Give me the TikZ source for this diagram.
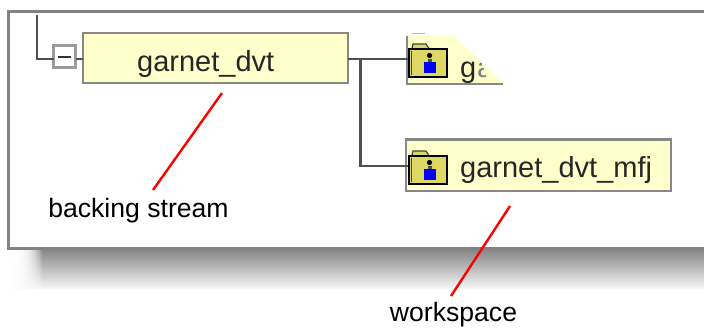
\documentclass[tikz,border=0pt]{standalone}
\usepackage{fontspec}
\setmainfont{Liberation Sans}
\definecolor{boxfill}{RGB}{255,255,204}
\definecolor{boxline}{RGB}{135,135,135}
\definecolor{expline}{RGB}{155,155,155}
\definecolor{treeline}{RGB}{80,80,80}
\definecolor{framegray}{RGB}{130,130,130}
\definecolor{foldery}{RGB}{221,216,100}
\tikzset{
  treebox/.style={draw=boxline,line width=2.2pt,fill=boxfill,inner sep=0pt,outer sep=0pt,anchor=north west},
  treetext/.style={font=\fontsize{29}{29}\selectfont,text=black!85,inner sep=0pt,anchor=base west},
  tree/.style={draw=treeline,line width=2.2pt},
  pointer/.style={draw=red,line width=2.4pt},
  callout/.style={font=\fontsize{26.6}{26.6}\selectfont,text=black,inner sep=0pt,anchor=base},
  foldericon/.pic={
    \draw[black!75,line width=1.2pt,fill=foldery] (3,-5) -- (4,-9.5) -- (17,-9.5) -- (20,-5);
    \draw[black,line width=2pt,fill=foldery] (0,-5) rectangle (38,23);
    \draw[black!70!foldery,line width=1pt] (2,-3) -- (2,21);
    \fill[black] (20.5,2) circle (2.6);
    \fill[blue!95!black] (14.5,8) rectangle (26.5,19);
    \fill[black!70] (18.5,5) rectangle (22.5,8);
  }
}
\begin{document}
\begin{tikzpicture}[x=1pt,y=-1pt]
\useasboundingbox (0,0) rectangle (704,327);
\clip (0,0) rectangle (704,327);
% drop shadow: vertical gradient, faded by strips towards the left
\shade[top color=black!48,middle color=black!20,bottom color=black!4] (42,249) rectangle (704,288);
\foreach \i in {1,...,15}{
  \pgfmathsetmacro{\xl}{12+2*(\i-1)}
  \pgfmathsetmacro{\xr}{\xl+2}
  \pgfmathsetmacro{\dark}{48*(\i/16)*(\i/16)*(\i/16)}
  \pgfmathsetmacro{\mid}{1+19*(\i/16)*(\i/16)*(\i/16)}
  \pgfmathsetmacro{\light}{1+3*\i/16}
  \shade[top color=black!\dark,middle color=black!\mid,bottom color=black!\light] (\xl,249) rectangle (\xr,288);
}
% window frame
\draw[framegray,line width=2.2pt,fill=white] (8.5,11.5) rectangle (720,248.5);
% tree coordinates
\coordinate (rootup) at (37,15);
\coordinate (elbow) at (37,59);
\coordinate (branch) at (360.5,59);
\coordinate (branchlow) at (360.5,166);
% top faded box
\fill[boxfill] (407,35) -- (453,35) -- (503,83) -- (407,83) -- cycle;
\draw[boxline,line width=2pt] (406.5,36) -- (406.5,83.5) -- (503,83.5);
\draw[boxline!60,line width=1pt] (412,33) -- (425,33);
\node[treetext,text=black!85] (topname) at (460,77) {g};
\begin{scope}
  \clip (478,55) -- (489,83) -- (470,83) -- (470,55) -- cycle;
  \node[treetext,text=black!50] (toppart) at (477,77) {a};
\end{scope}
% boxes
\node[treebox,minimum width=265pt,minimum height=50.5pt] (root) at (82.7,32.7) {};
\node[treetext] (rootname) at (137,71.5) {garnet\_dvt};
\node[treebox,minimum width=265pt,minimum height=51.4pt] (mfj) at (406,139.5) {};
\node[treetext] (mfjname) at (460,177.5) {garnet\_dvt\_mfj};
% expander
\node[draw=expline,line width=2.2pt,fill=white,outer sep=0pt,minimum width=22pt,minimum height=22pt,inner sep=0pt] (expander) at (64.5,56.5) {};
\coordinate (minusl) at (58,57);
\coordinate (minusr) at (71,57);
\draw[black!80,line width=2pt] (minusl) -- (minusr);
% connectors
\draw[tree] (rootup) -- (elbow) -- (expander.west |- elbow);
\draw[tree] (expander.east |- elbow) -- (root.west |- elbow);
\draw[tree] (root.east |- branch) -- (branch) -- (408,59);
\draw[tree] (branch) -- (branchlow) -- (408,166);
% folder icons
\pic at (409,53.5) {foldericon};
\pic at (409,160.5) {foldericon};
% pointers
\coordinate (p1a) at (222,93);
\coordinate (p1b) at (153,190);
\coordinate (p2a) at (510,206);
\coordinate (p2b) at (451,296);
\draw[pointer] (p1a) -- (p1b);
\draw[pointer] (p2a) -- (p2b);
% labels
\node[callout] (backing) at (138.5,217) {backing stream};
\node[callout] (work) at (453.5,321) {workspace};
\end{tikzpicture}
\end{document}
